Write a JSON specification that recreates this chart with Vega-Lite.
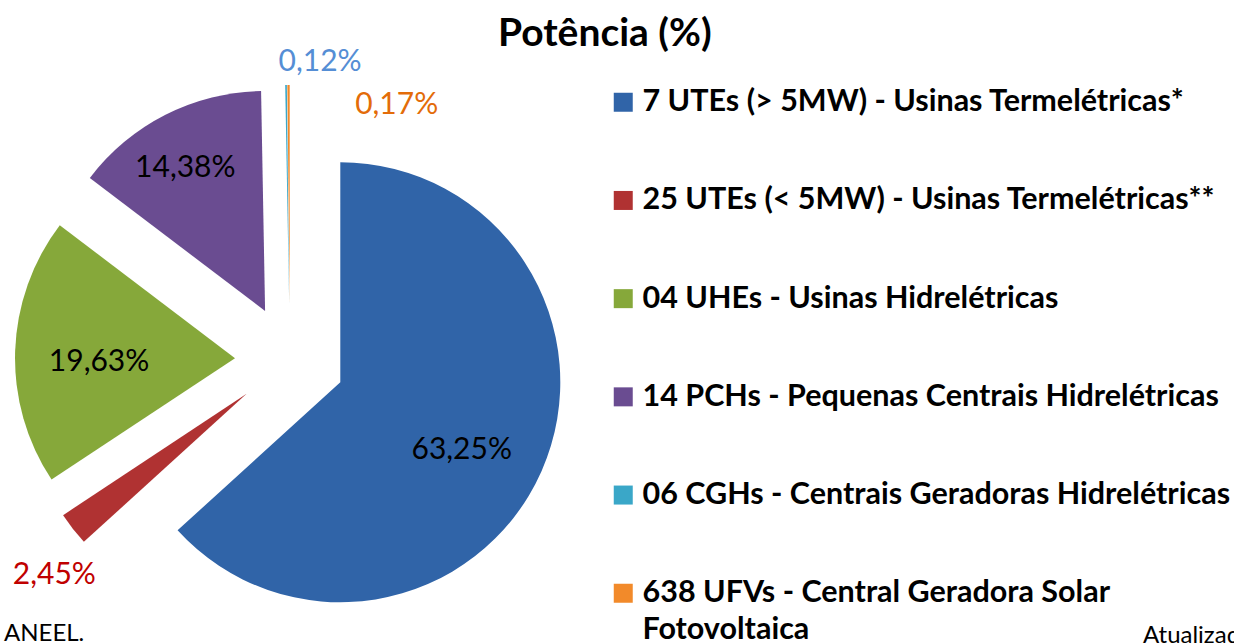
{
  "$schema": "https://vega.github.io/schema/vega-lite/v6.json",
  "width": 580,
  "height": 568,
  "autosize": {"type": "none"},
  "padding": {"left": 0, "top": 76, "right": 654, "bottom": 0},
  "background": "white",
  "config": {"view": {"stroke": null}, "font": "Lato"},
  "title": {"text": "Potência (%)", "font": "Lato", "fontSize": 39, "fontWeight": "bold", "color": "#000000", "anchor": "middle", "frame": "bounds", "offset": -7, "dx": -22},
  "layer": [
    {
      "data": {"values": [
        {"categoria": "7 UTEs (> 5MW) - Usinas Termelétricas*", "pct": 63.25, "ord": 1, "rotulo": "63,25%"},
        {"categoria": "25 UTEs (< 5MW) - Usinas Termelétricas**", "pct": 2.45, "ord": 2, "rotulo": "2,45%"},
        {"categoria": "04 UHEs - Usinas Hidrelétricas", "pct": 19.63, "ord": 3, "rotulo": "19,63%"},
        {"categoria": "14 PCHs - Pequenas Centrais Hidrelétricas", "pct": 14.38, "ord": 4, "rotulo": "14,38%"},
        {"categoria": "06 CGHs - Centrais Geradoras Hidrelétricas", "pct": 0.12, "ord": 5, "rotulo": "0,12%"},
        {"categoria": "638 UFVs - Central Geradora Solar Fotovoltaica", "pct": 0.17, "ord": 6, "rotulo": "0,17%"}
      ]},
      "encoding": {
        "theta": {"field": "pct", "type": "quantitative", "stack": true},
        "order": {"field": "ord", "type": "quantitative"}
      },
      "layer": [
        {
          "mark": {"type": "arc", "radius": 220,
            "xOffset": {"expr": "55*sin(PI*(datum.pct_start+datum.pct_end)/100)"},
            "yOffset": {"expr": "-55*cos(PI*(datum.pct_start+datum.pct_end)/100)"}},
          "encoding": {
            "color": {"field": "categoria", "type": "nominal",
              "scale": {"domain": [
                "7 UTEs (> 5MW) - Usinas Termelétricas*",
                "25 UTEs (< 5MW) - Usinas Termelétricas**",
                "04 UHEs - Usinas Hidrelétricas",
                "14 PCHs - Pequenas Centrais Hidrelétricas",
                "06 CGHs - Centrais Geradoras Hidrelétricas",
                "638 UFVs - Central Geradora Solar Fotovoltaica"],
                "range": ["#3064A8", "#B03232", "#86A83A", "#6A4C91", "#3AA7C8", "#F28A2A"]},
              "legend": {"orient": "none", "legendX": 608, "legendY": 11, "title": null,
                "symbolType": "square", "symbolSize": 361, "symbolStrokeWidth": 0,
                "labelFont": "Lato", "labelFontSize": 30.5, "labelFontWeight": "bold", "labelColor": "#000000",
                "labelLimit": 700, "rowPadding": 67.2, "labelOffset": 4, "padding": 0,
                "labelExpr": "datum.label == '638 UFVs - Central Geradora Solar Fotovoltaica' ? ['638 UFVs - Central Geradora Solar', 'Fotovoltaica'] : datum.label",
                "encode": {"labels": {"update": {"lineHeight": {"value": 37}}}}}}
          }
        },
        {
          "mark": {"type": "text", "font": "Lato", "fontSize": 30,
            "radius": {"expr": "datum.ord == 1 ? 139 : datum.ord == 2 ? 264 : datum.ord == 3 ? 136 : datum.ord == 4 ? 164 : datum.ord == 5 ? 245 : 227"},
            "thetaOffset": {"expr": "datum.ord == 1 ? 0.092 : datum.ord == 2 ? -0.094 : datum.ord == 3 ? -0.059 : datum.ord == 4 ? -0.038 : datum.ord == 5 ? 0.141 : 0.496"},
            "color": {"expr": "datum.ord == 2 ? '#C00000' : datum.ord == 5 ? '#558ED5' : datum.ord == 6 ? '#E36C09' : '#000000'"},
            "xOffset": {"expr": "55*sin(PI*(datum.pct_start+datum.pct_end)/100)"},
            "yOffset": {"expr": "-55*cos(PI*(datum.pct_start+datum.pct_end)/100)"}},
          "encoding": {"text": {"field": "rotulo"}}
        }
      ]
    },
    {
      "data": {"values": [{"nota": "ANEEL."}]},
      "mark": {"type": "text", "x": 4, "y": {"expr": "height - 3"}, "align": "left", "baseline": "alphabetic", "font": "Lato", "fontSize": 24, "color": "#000000"},
      "encoding": {"text": {"field": "nota"}}
    },
    {
      "data": {"values": [{"nota": "Atualizado"}]},
      "mark": {"type": "text", "x": 1143, "y": {"expr": "height - 1"}, "align": "left", "baseline": "alphabetic", "font": "Lato", "fontSize": 24, "color": "#000000"},
      "encoding": {"text": {"field": "nota"}}
    }
  ]
}
